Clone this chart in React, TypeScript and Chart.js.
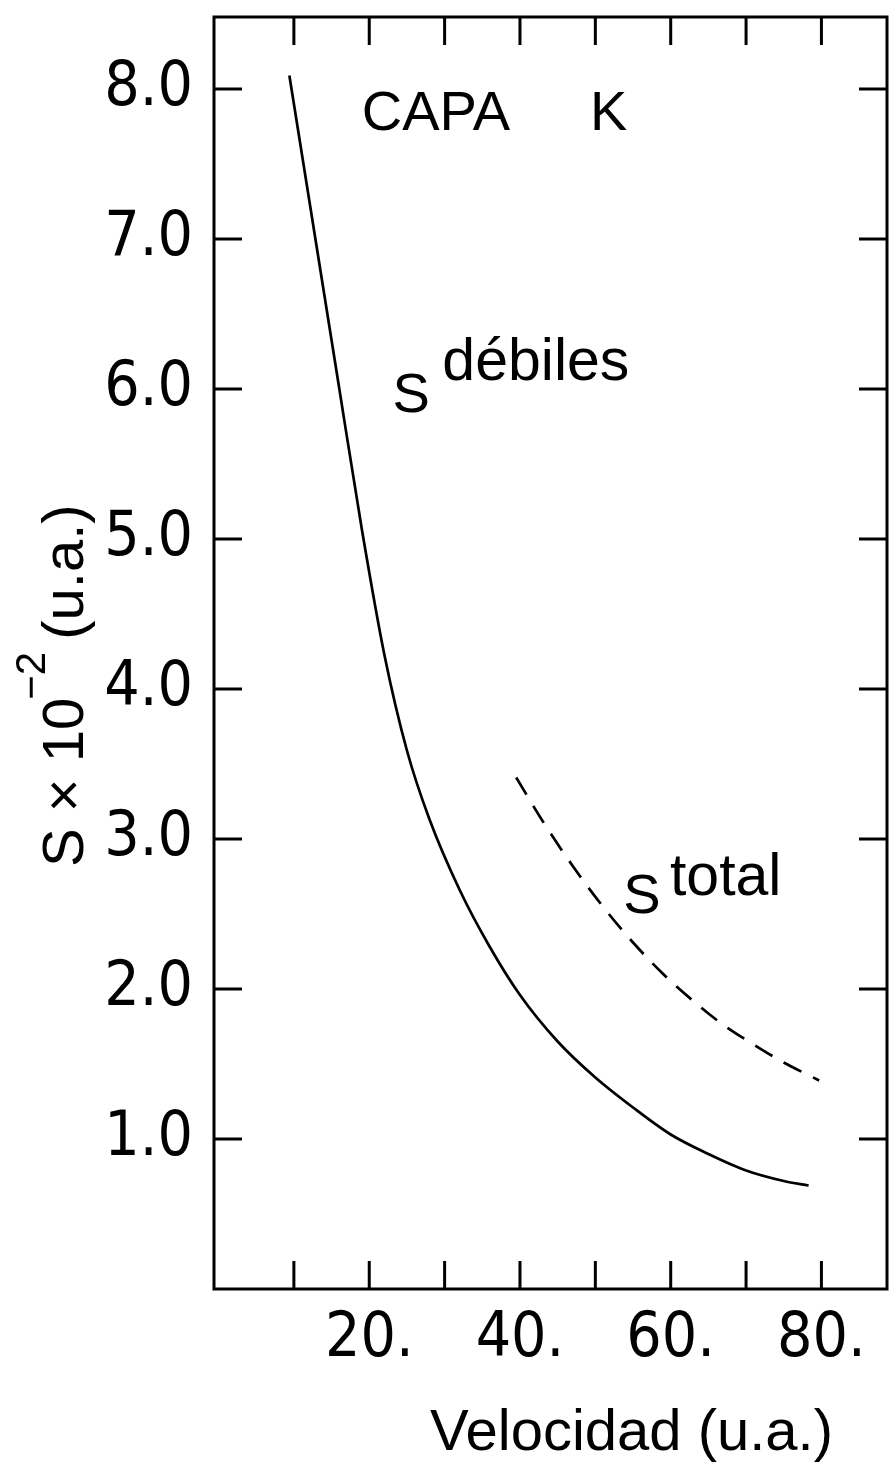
import React, { useEffect, useRef } from "react";
import { Chart, registerables } from "chart.js";

Chart.register(...registerables);

// S débiles curve: velocity (u.a.) and S × 10⁻² (u.a.)
const velocidadDebiles = [9.4, 12, 14, 16, 19, 22, 25, 28, 32, 36, 40, 45, 50, 55, 60, 65, 70, 75, 78.3];
const sDebiles = [8.09, 7.27, 6.64, 6.01, 5.07, 4.23, 3.59, 3.13, 2.66, 2.28, 1.96, 1.65, 1.41, 1.21, 1.03, 0.9, 0.79, 0.72, 0.69];

// S total curve (dashed)
const velocidadTotal = [39.5, 43, 47, 51, 55, 59, 63, 67, 71, 75, 79.7];
const sTotal = [3.41, 3.12, 2.82, 2.55, 2.31, 2.1, 1.92, 1.76, 1.63, 1.51, 1.39];

// Axis ticks
const xTickValues = [10, 20, 30, 40, 50, 60, 70, 80];
const xTickLabels = ["", "20.", "", "40.", "", "60.", "", "80."];
const yTickValues = [1, 2, 3, 4, 5, 6, 7, 8];
const yTickLabels = ["1.0", "2.0", "3.0", "4.0", "5.0", "6.0", "7.0", "8.0"];

// In-plot labels: text, anchor in data units, font size
const labelTexts = ["CAPA", "K", "S", "débiles", "S", "total"];
const labelX = [19.0, 49.3, 23.1, 29.7, 53.7, 59.9];
const labelY = [7.73, 7.73, 5.85, 6.06, 2.51, 2.63];
const labelSize = [56, 56, 56, 59, 56, 59];

const TICK_FONT = "'DejaVu Sans Condensed', 'Liberation Sans Narrow', 'Liberation Sans', Arial, sans-serif";
const TEXT_FONT = "'Liberation Sans', Arial, sans-serif";

const framePlugin = {
  id: "frameAndLabels",
  afterDraw(chart: any) {
    const { ctx, chartArea: a, scales } = chart;
    const xs = scales.x;
    const ys = scales.y;
    ctx.save();
    ctx.strokeStyle = "#000";
    ctx.lineWidth = 3;
    ctx.lineCap = "butt";
    ctx.strokeRect(a.left, a.top, a.right - a.left, a.bottom - a.top);

    const tl = 28;
    ctx.beginPath();
    xTickValues.forEach((v) => {
      const px = xs.getPixelForValue(v);
      ctx.moveTo(px, a.bottom);
      ctx.lineTo(px, a.bottom - tl);
      ctx.moveTo(px, a.top);
      ctx.lineTo(px, a.top + tl);
    });
    yTickValues.forEach((v) => {
      const py = ys.getPixelForValue(v);
      ctx.moveTo(a.left, py);
      ctx.lineTo(a.left + tl, py);
      ctx.moveTo(a.right, py);
      ctx.lineTo(a.right - tl, py);
    });
    ctx.stroke();

    // labels inside the plot
    ctx.fillStyle = "#000";
    ctx.textAlign = "left";
    ctx.textBaseline = "alphabetic";
    labelTexts.forEach((t, i) => {
      ctx.font = `${labelSize[i]}px ${TEXT_FONT}`;
      ctx.fillText(t, xs.getPixelForValue(labelX[i]), ys.getPixelForValue(labelY[i]));
    });

    // x axis title
    ctx.font = `58px ${TEXT_FONT}`;
    ctx.fillText("Velocidad (u.a.)", a.left + 216, a.bottom + 161);

    // y axis title, rotated, with superscript exponent
    ctx.save();
    ctx.translate(83, a.bottom - 422);
    ctx.rotate(-Math.PI / 2);
    ctx.font = `58px ${TEXT_FONT}`;
    const part1 = "S × 10";
    const w1 = ctx.measureText(part1).width;
    ctx.fillText(part1, 0, 0);
    ctx.font = `42px ${TEXT_FONT}`;
    const sup = "−2";
    const ws = ctx.measureText(sup).width;
    ctx.fillText(sup, w1 - 2, -38);
    ctx.font = `58px ${TEXT_FONT}`;
    ctx.fillText(" (u.a.)", w1 + ws - 6, 0);
    ctx.restore();

    ctx.restore();
  },
};

export default function App() {
  const canvasRef = useRef<HTMLCanvasElement | null>(null);

  useEffect(() => {
    const canvas = canvasRef.current;
    if (!canvas) return;
    const chart = new Chart(canvas, {
      type: "line",
      data: {
        datasets: [
          {
            label: "S débiles",
            data: velocidadDebiles.map((x, i) => ({ x, y: sDebiles[i] })),
            borderColor: "#000",
            borderWidth: 2.7,
            pointRadius: 0,
            cubicInterpolationMode: "monotone",
            fill: false,
          },
          {
            label: "S total",
            data: velocidadTotal.map((x, i) => ({ x, y: sTotal[i] })),
            borderColor: "#000",
            borderWidth: 2.7,
            borderDash: [20, 13],
            pointRadius: 0,
            cubicInterpolationMode: "monotone",
            fill: false,
          },
        ],
      },
      options: {
        responsive: false,
        animation: false,
        layout: { padding: { left: 0, top: 17, right: 9, bottom: 0 } },
        plugins: {
          legend: { display: false },
          tooltip: { enabled: false },
        },
        scales: {
          x: {
            type: "linear",
            min: -0.6,
            max: 88.7,
            afterBuildTicks: (axis: any) => {
              axis.ticks = xTickValues.map((value) => ({ value }));
            },
            afterFit: (axis: any) => {
              axis.height = 181;
              axis.paddingLeft = 0;
              axis.paddingRight = 0;
            },
            grid: { display: false, drawTicks: false },
            border: { display: false },
            ticks: {
              autoSkip: false,
              maxRotation: 0,
              padding: 14,
              color: "#000",
              font: { family: TICK_FONT, size: 62 },
              callback: (value: any) => {
                const i = xTickValues.indexOf(Number(value));
                return i >= 0 ? xTickLabels[i] : "";
              },
            },
          },
          y: {
            type: "linear",
            min: 0,
            max: 8.48,
            afterBuildTicks: (axis: any) => {
              axis.ticks = yTickValues.map((value) => ({ value }));
            },
            afterFit: (axis: any) => {
              axis.width = 214;
              axis.paddingTop = 0;
              axis.paddingBottom = 0;
            },
            grid: { display: false, drawTicks: false },
            border: { display: false },
            ticks: {
              autoSkip: false,
              padding: 21,
              color: "#000",
              font: { family: TICK_FONT, size: 62 },
              callback: (value: any) => {
                const i = yTickValues.indexOf(Number(value));
                return i >= 0 ? yTickLabels[i] : "";
              },
            },
          },
        },
      },
      plugins: [framePlugin],
    });
    return () => chart.destroy();
  }, []);

  return (
    <div style={{ position: "absolute", left: 0, top: 0, width: 896, height: 1470, background: "#fff" }}>
      <canvas ref={canvasRef} width={896} height={1470} />
    </div>
  );
}
